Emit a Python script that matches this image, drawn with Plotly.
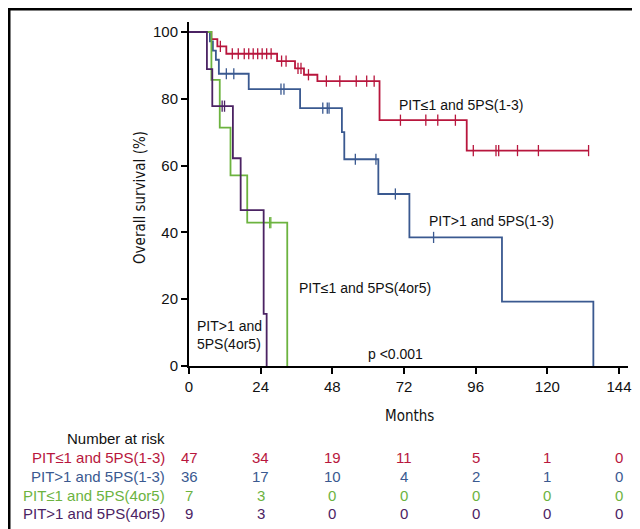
import numpy as np
import plotly.graph_objects as go

# ---------------- data ----------------
series_names = ["PIT≤1 and 5PS(1-3)", "PIT>1 and 5PS(1-3)",
                "PIT≤1 and 5PS(4or5)", "PIT>1 and 5PS(4or5)"]

red_times = [7.5, 9.5, 12.5, 29.5, 35.5, 38.5, 43.0, 63.8, 93.0]
red_surv = [97.9, 95.7, 93.5, 91.3, 89.1, 87.2, 85.3, 73.6, 64.5]
red_censor = [10.5, 14.5, 16.5, 18.5, 20.0, 21.5, 23.0, 24.5, 26.0, 27.5,
              31.0, 32.5, 36.5, 37.5, 40.0, 46.0, 50.5, 56.0, 59.5, 62.0,
              70.8, 79.3, 83.3, 89.2, 95.2, 102.8, 103.7, 110.0, 117.0, 133.8]
red_end = 133.8

blue_times = [7.0, 8.0, 9.0, 10.0, 20.0, 37.2, 51.2, 52.0, 63.4, 73.8, 104.8, 135.4]
blue_surv = [97.2, 94.4, 91.7, 87.5, 82.9, 77.2, 70.0, 61.9, 51.5, 38.5, 19.3, 0.0]
blue_censor = [12.5, 15.0, 30.8, 31.8, 44.8, 46.3, 46.9, 55.7, 62.6, 69.1, 81.9]
blue_end = 135.4

green_times = [7.5, 10.3, 13.9, 19.5, 32.9]
green_surv = [85.7, 71.4, 57.1, 42.9, 0.0]
green_censor = [27.0, 27.4]
green_end = 32.9

purple_times = [6.0, 7.8, 14.7, 17.3, 25.0, 26.0]
purple_surv = [88.9, 77.8, 62.2, 46.7, 15.6, 0.0]
purple_censor = [11.1, 11.9]
purple_end = 26.0

risk_times = [0, 24, 48, 72, 96, 120, 144]
red_risk = [47, 34, 19, 11, 5, 1, 0]
blue_risk = [36, 17, 10, 4, 2, 1, 0]
green_risk = [7, 3, 0, 0, 0, 0, 0]
purple_risk = [9, 3, 0, 0, 0, 0, 0]

x_ticks = [0, 24, 48, 72, 96, 120, 144]
y_ticks = [0, 20, 40, 60, 80, 100]

# ---------------- style ----------------
colors = ["#B8163D", "#3A5990", "#6CB33F", "#4B2363"]
FONT = "Liberation Sans, Arial, sans-serif"
NARROW = "Liberation Sans Narrow, DejaVu Sans Condensed, Roboto Condensed, Liberation Sans, sans-serif"

W, H = 640, 529
L, R, T, B = 181, 20, 14, 171
PW = W - L - R
PH = H - T - B


def pxx(x):
    return (x - L) / PW


def pxy(y):
    return (H - B - y) / PH


fig = go.Figure()

curves = [
    (red_times, red_surv, red_censor, red_end),
    (blue_times, blue_surv, blue_censor, blue_end),
    (green_times, green_surv, green_censor, green_end),
    (purple_times, purple_surv, purple_censor, purple_end),
]

for (times, surv, cens, end), col, name in zip(curves, colors, series_names):
    xs = [0] + list(times) + [end]
    ys = [100] + list(surv) + [surv[-1]]
    fig.add_trace(go.Scatter(x=xs, y=ys, mode="lines", line_shape="hv",
                             line=dict(color=col, width=1.8), name=name,
                             showlegend=False, hoverinfo="skip"))
    t_arr = np.array(times)
    s_arr = np.array([100] + list(surv))
    idx = np.searchsorted(t_arr, np.array(cens), side="right")
    cy = s_arr[idx]
    fig.add_trace(go.Scatter(x=cens, y=cy, mode="markers",
                             marker=dict(symbol="line-ns-open", size=8, color=col,
                                         line=dict(color=col, width=1.3)),
                             showlegend=False, hoverinfo="skip"))

annotations = []
lab_font = dict(family=FONT, size=14, color="#111")
# curve labels
annotations.append(dict(x=69.6, y=78.1, xref="x", yref="y", text=series_names[0],
                        showarrow=False, xanchor="left", yanchor="middle", font=lab_font))
annotations.append(dict(x=79.6, y=43.4, xref="x", yref="y", text=series_names[1],
                        showarrow=False, xanchor="left", yanchor="middle", font=lab_font))
annotations.append(dict(x=36.1, y=23.3, xref="x", yref="y", text=series_names[2],
                        showarrow=False, xanchor="left", yanchor="middle", font=lab_font))
annotations.append(dict(x=2.0, y=9.2, xref="x", yref="y", text="PIT>1 and<br>5PS(4or5)",
                        showarrow=False, xanchor="left", yanchor="middle", align="left",
                        font=lab_font))
annotations.append(dict(x=69.3, y=3.6, xref="x", yref="y", text="p <0.001",
                        showarrow=False, xanchor="center", yanchor="middle", font=lab_font))

# axis titles
annotations.append(dict(x=pxx(401), y=pxy(408), xref="paper", yref="paper", text="Months",
                        showarrow=False, xanchor="center", yanchor="middle",
                        font=dict(family=NARROW, size=15, color="#111")))
annotations.append(dict(x=pxx(132), y=pxy(190), xref="paper", yref="paper",
                        text="Overall survival (%)", textangle=-90,
                        showarrow=False, xanchor="center", yanchor="middle",
                        font=dict(family=NARROW, size=15, color="#111")))

# number at risk table
tab_size = 15
annotations.append(dict(x=pxx(159), y=pxy(430), xref="paper", yref="paper",
                        text="Number at risk", showarrow=False, xanchor="right",
                        yanchor="middle", font=dict(family=FONT, size=tab_size, color="#111")))
row_y = [449, 468, 487, 506]
for name, risks, col, ry in zip(series_names, [red_risk, blue_risk, green_risk, purple_risk],
                                colors, row_y):
    annotations.append(dict(x=pxx(159), y=pxy(ry), xref="paper", yref="paper",
                            text=name, showarrow=False, xanchor="right", yanchor="middle",
                            font=dict(family=FONT, size=tab_size, color=col)))
    for t, n in zip(risk_times, risks):
        annotations.append(dict(x=t, y=pxy(ry), xref="x", yref="paper",
                                text=str(n), showarrow=False, xanchor="center",
                                yanchor="middle",
                                font=dict(family=FONT, size=tab_size, color=col)))

fig.update_layout(
    width=W, height=H,
    margin=dict(l=L, r=R, t=T, b=B),
    paper_bgcolor="white", plot_bgcolor="white",
    annotations=annotations,
    shapes=[dict(type="rect", xref="paper", yref="paper",
                 x0=pxx(1), x1=pxx(638), y0=pxy(527), y1=pxy(1),
                 line=dict(color="black", width=3), fillcolor="rgba(0,0,0,0)",
                 layer="above")],
    xaxis=dict(range=[0, 147], tickvals=x_ticks, showgrid=False, zeroline=False,
               showline=True, linecolor="black", linewidth=2, ticks="outside",
               ticklen=6, tickwidth=1.5, tickcolor="black",
               tickfont=dict(family=FONT, size=15, color="#111")),
    yaxis=dict(range=[0, 103], tickvals=y_ticks, showgrid=False, zeroline=False,
               showline=True, linecolor="black", linewidth=2, ticks="outside",
               ticklen=6, tickwidth=1.5, tickcolor="black",
               tickfont=dict(family=FONT, size=15, color="#111")),
)

fig.write_html("out.html")
